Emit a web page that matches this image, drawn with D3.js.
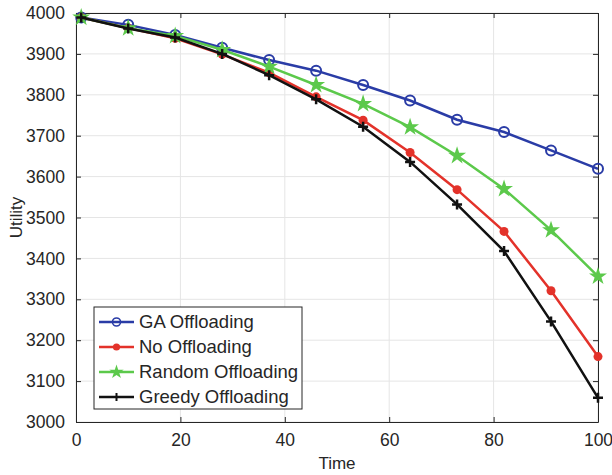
<!DOCTYPE html>
<html>
<head>
<meta charset="utf-8">
<script src="https://cdn.jsdelivr.net/npm/d3@7"></script>
<style>
  body { margin: 0; background: #fff; }
  svg { font-family: "Liberation Sans", Arial, sans-serif; }
</style>
</head>
<body>
<div id="chart"></div>
<script>
// data
let times = [1, 10, 19, 28, 37, 46, 55, 64, 73, 82, 91, 100];
let gaOffloading = [3989, 3971, 3946, 3915, 3885, 3859, 3824, 3786, 3739, 3709, 3664, 3619];
let noOffloading = [3989, 3963, 3938, 3899, 3854, 3795, 3738, 3659, 3568, 3466, 3321, 3160];
let randomOffloading = [3989, 3963, 3944, 3910, 3869, 3824, 3778, 3721, 3651, 3570, 3469, 3356];
let greedyOffloading = [3989, 3962, 3940, 3900, 3848, 3789, 3722, 3636, 3532, 3418, 3246, 3059];
let seriesNames = ['GA Offloading', 'No Offloading', 'Random Offloading', 'Greedy Offloading'];
let xTicks = [0, 20, 40, 60, 80, 100];
let yTicks = [3000, 3100, 3200, 3300, 3400, 3500, 3600, 3700, 3800, 3900, 4000];

let width = 612,
  height = 475,
  plotLeft = 76,
  plotRight = 598,
  plotTop = 13,
  plotBottom = 422;

let series = [
  { name: seriesNames[0], values: gaOffloading, color: '#2a3ca6', marker: 'circle' },
  { name: seriesNames[1], values: noOffloading, color: '#e3322a', marker: 'dot' },
  { name: seriesNames[2], values: randomOffloading, color: '#5cc94b', marker: 'star' },
  { name: seriesNames[3], values: greedyOffloading, color: '#111111', marker: 'plus' }
];

let svg = d3.select('#chart')
  .append('svg')
  .attr('width', width)
  .attr('height', height);

let xScale = d3.scaleLinear().domain([0, 100]).range([plotLeft, plotRight]);
let yScale = d3.scaleLinear().domain([3000, 4000]).range([plotBottom, plotTop]);

// grid
svg.append('g')
  .selectAll('line')
  .data(xTicks)
  .enter()
  .append('line')
  .attr('x1', d => xScale(d)).attr('x2', d => xScale(d))
  .attr('y1', plotTop).attr('y2', plotBottom)
  .attr('stroke', '#e5e5e5').attr('stroke-width', 1);

svg.append('g')
  .selectAll('line')
  .data(yTicks)
  .enter()
  .append('line')
  .attr('x1', plotLeft).attr('x2', plotRight)
  .attr('y1', d => yScale(d)).attr('y2', d => yScale(d))
  .attr('stroke', '#e5e5e5').attr('stroke-width', 1);

// axes, ticks pointing inwards on all four sides
function styleAxis(g) {
  g.selectAll('.domain').attr('stroke', '#262626');
  g.selectAll('.tick line').attr('stroke', '#262626');
  g.selectAll('.tick text')
    .attr('fill', '#262626')
    .style('font-size', '17.5px')
    .style('font-family', '"Liberation Sans", Arial, sans-serif');
}

svg.append('g')
  .attr('transform', 'translate(0,' + plotBottom + ')')
  .call(d3.axisBottom(xScale).tickValues(xTicks).tickSizeInner(-5).tickSizeOuter(0).tickPadding(12).tickFormat(d3.format('d')))
  .call(styleAxis);

svg.append('g')
  .attr('transform', 'translate(0,' + plotTop + ')')
  .call(d3.axisTop(xScale).tickValues(xTicks).tickSizeInner(-5).tickSizeOuter(0).tickFormat(''))
  .call(styleAxis);

svg.append('g')
  .attr('transform', 'translate(' + plotLeft + ',0)')
  .call(d3.axisLeft(yScale).tickValues(yTicks).tickSizeInner(-5).tickSizeOuter(0).tickPadding(11).tickFormat(d3.format('d')))
  .call(styleAxis);

svg.append('g')
  .attr('transform', 'translate(' + plotRight + ',0)')
  .call(d3.axisRight(yScale).tickValues(yTicks).tickSizeInner(-5).tickSizeOuter(0).tickFormat(''))
  .call(styleAxis);

// axis titles
svg.append('text')
  .attr('x', (plotLeft + plotRight) / 2)
  .attr('y', 469)
  .attr('text-anchor', 'middle')
  .style('font-size', '17px')
  .attr('fill', '#262626')
  .text('Time');

svg.append('text')
  .attr('transform', 'rotate(-90)')
  .attr('x', -(plotTop + plotBottom) / 2)
  .attr('y', 22)
  .attr('text-anchor', 'middle')
  .style('font-size', '17px')
  .attr('fill', '#262626')
  .text('Utility');

// markers
let star = d3.symbol().type(d3.symbolStar).size(100);

function drawMarker(g, s) {
  if (s.marker === 'circle') {
    g.append('circle').attr('r', 5).attr('fill', 'none')
      .attr('stroke', s.color).attr('stroke-width', 2);
  } else if (s.marker === 'dot') {
    g.append('circle').attr('r', 4.5).attr('fill', s.color);
  } else if (s.marker === 'star') {
    g.append('path').attr('d', star).attr('fill', s.color);
  } else {
    g.append('path').attr('d', 'M-5,0H5M0,-5V5')
      .attr('stroke', s.color).attr('stroke-width', 2.5);
  }
}

let line = d3.line()
  .x((d, i) => xScale(times[i]))
  .y(d => yScale(d));

series.forEach(function (s) {
  svg.append('path')
    .datum(s.values)
    .attr('d', line)
    .attr('fill', 'none')
    .attr('stroke', s.color)
    .attr('stroke-width', 2.5);

  svg.append('g')
    .selectAll('g')
    .data(s.values)
    .enter()
    .append('g')
    .attr('transform', (d, i) => 'translate(' + xScale(times[i]) + ',' + yScale(d) + ')')
    .each(function () { drawMarker(d3.select(this), s); });
});

// legend
let legend = svg.append('g').attr('transform', 'translate(94,307)');

legend.append('rect')
  .attr('width', 208)
  .attr('height', 102)
  .attr('fill', '#fff')
  .attr('stroke', '#262626')
  .attr('stroke-width', 1);

let item = legend.selectAll('.legend-item')
  .data(series)
  .enter()
  .append('g')
  .attr('class', 'legend-item')
  .attr('transform', (d, i) => 'translate(0,' + (15 + i * 25) + ')');

item.append('line')
  .attr('x1', 5).attr('x2', 40)
  .attr('stroke', d => d.color)
  .attr('stroke-width', 2.5);

item.append('g')
  .attr('transform', 'translate(22.5,0) scale(0.8)')
  .each(function (d) { drawMarker(d3.select(this), d); });

item.append('text')
  .attr('x', 45)
  .attr('dy', '0.35em')
  .style('font-size', '18.5px')
  .attr('fill', '#262626')
  .text(d => d.name);
</script>
</body>
</html>
